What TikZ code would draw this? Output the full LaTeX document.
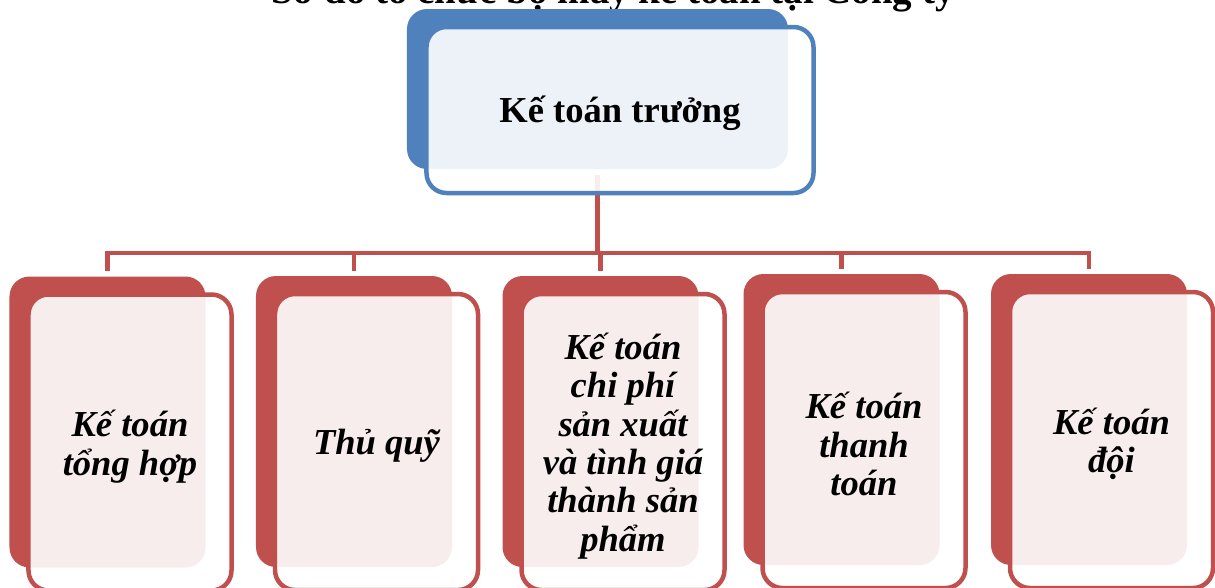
\documentclass[tikz,border=0pt]{standalone}
\usepackage{fontspec}
\setmainfont{Liberation Serif}
\usetikzlibrary{positioning}

\begin{document}
\begin{tikzpicture}[x=0.25mm, y=-0.25mm,
    backbox/.style={rectangle, rounded corners=5mm, fill=#1, draw=none, inner sep=0pt},
    frontbox/.style={rectangle, rounded corners=5mm, draw=#1, line width=3.2pt,
        fill=white, fill opacity=0.9, inner sep=0pt},
    link/.style={draw=linkColour, line width=3.2pt},
    headFont/.style={font=\fontsize{26}{28}\selectfont\bfseries},
    staffFont/.style={font=\fontsize{26}{27.3}\selectfont\bfseries\itshape, align=center}]

    \definecolor{chiefColour}{HTML}{4F81BD}
    \definecolor{staffColour}{HTML}{C0504D}
    \definecolor{linkColour}{HTML}{C0504D}

    % Page size
    \useasboundingbox (0,0) rectangle (1215,587);

    % Title, cut by the top edge
    \node[font=\fontsize{27.7}{30}\selectfont\bfseries, anchor=base] (title) at (613,3.5)
        {Sơ đồ tổ chức bộ máy kế toán tại Công ty};

    % Chief accountant
    \node[backbox=chiefColour, minimum width=95.25mm, minimum height=40mm] (chiefBack) at (597.5,89) {};
    \coordinate (bus) at (597.5,253);
    \draw[link, shorten <=1.5mm] (chiefBack.south) -- (chiefBack |- bus);
    \node[frontbox=chiefColour, minimum width=96.75mm, minimum height=41.5mm]
        (chief) at ([shift={(22.5,21)}]chiefBack) {};
    \node[headFont] (chiefText) at ([yshift=-0.7mm]chief.center) {Kế toán trưởng};

    % Staff boxes
    \foreach \i/\cx/\cy/\txt in {1/107.5/422/{Kế toán\\tổng hợp},
                                 2/354/421.5/{Thủ quỹ},
                                 3/600.5/421.5/{Kế toán\\chi phí\\sản xuất\\và tình giá\\thành sản\\phẩm},
                                 4/841.5/419.5/{Kế toán\\thanh\\toán},
                                 5/1089/419.5/{Kế toán\\đội}} {
        \node[backbox=staffColour, minimum width=49mm, minimum height=72.75mm] (b\i) at (\cx,\cy) {};
        \node[frontbox=staffColour, minimum width=50.75mm, minimum height=74mm]
            (f\i) at ([shift={(22.5,20.5)}]b\i) {};
        \node[staffFont] (t\i) at ([yshift=-1mm]f\i.center) {\txt};
    }

    % Connectors
    \draw[link, shorten <=1.25mm, shorten >=1.25mm] (b1.north) |- (bus) -| (b5.north);
    \foreach \i in {2,3,4}
        \draw[link, shorten >=1.25mm] (b\i |- bus) -- (b\i.north);

\end{tikzpicture}
\end{document}
